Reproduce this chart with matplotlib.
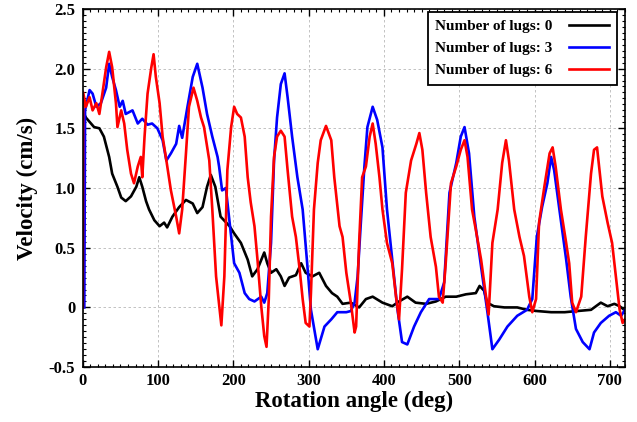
import matplotlib
matplotlib.use("Agg")
import matplotlib.pyplot as plt
from matplotlib.ticker import MultipleLocator

# lugs = 0 (black)
angle_0 = [0, 1, 4, 15, 22, 28, 35, 39, 46, 51, 57, 64, 71, 75, 79, 84, 88, 95, 102, 108, 112,
           119, 128, 137, 146, 152, 159, 165, 170, 176, 183, 195, 201, 210, 219, 225, 232, 241,
           245, 250, 257, 263, 268, 274, 283, 290, 296, 305, 314, 323, 331, 338, 345, 356, 367,
           376, 385, 398, 411, 420, 431, 442, 456, 469, 482, 496, 509, 522, 527, 533, 537, 546,
           560, 577, 590, 603, 622, 640, 657, 675, 688, 697, 706, 713, 719]
vel_0 = [0.0, 1.63, 1.59, 1.51, 1.50, 1.43, 1.26, 1.12, 1.01, 0.92, 0.89, 0.93, 1.01, 1.09,
         1.01, 0.89, 0.82, 0.73, 0.68, 0.71, 0.67, 0.76, 0.84, 0.90, 0.87, 0.79, 0.84, 1.01,
         1.11, 1.01, 0.76, 0.68, 0.62, 0.54, 0.40, 0.26, 0.32, 0.46, 0.37, 0.29, 0.32, 0.26,
         0.18, 0.25, 0.27, 0.37, 0.29, 0.26, 0.29, 0.18, 0.12, 0.09, 0.03, 0.04, 0.0, 0.07,
         0.09, 0.04, 0.01, 0.05, 0.09, 0.04, 0.03, 0.05, 0.09, 0.09, 0.11, 0.12, 0.18, 0.14,
         0.04, 0.01, 0.0, 0.0, -0.02, -0.03, -0.04, -0.04, -0.03, -0.02, 0.04, 0.01, 0.03,
         0.01, -0.02]

# lugs = 3 (blue)
angle_3 = [2, 3, 9, 13, 18, 24, 31, 35, 39, 44, 49, 53, 57, 66, 73, 79, 86, 92, 99, 106, 111,
           117, 124, 128, 132, 139, 146, 152, 159, 165, 172, 179, 181, 185, 190, 195, 201, 208,
           215, 221, 228, 237, 241, 245, 250, 254, 258, 263, 268, 272, 278, 285, 292, 298, 303,
           312, 321, 330, 338, 350, 356, 361, 365, 369, 374, 378, 385, 391, 398, 404, 411, 418,
           424, 431, 440, 449, 460, 473, 480, 487, 496, 502, 507, 513, 520, 529, 537, 544, 553,
           564, 577, 590, 597, 603, 610, 617, 622, 626, 633, 642, 648, 655, 664, 673, 679, 688,
           699, 708, 715, 720]
vel_3 = [0.0, 1.65, 1.82, 1.79, 1.68, 1.71, 1.84, 2.04, 1.93, 1.82, 1.68, 1.73, 1.62, 1.65,
         1.54, 1.58, 1.53, 1.54, 1.50, 1.40, 1.23, 1.29, 1.37, 1.52, 1.42, 1.68, 1.93, 2.04,
         1.84, 1.62, 1.43, 1.26, 1.18, 0.98, 1.00, 0.71, 0.37, 0.29, 0.12, 0.07, 0.05, 0.09,
         0.04, 0.12, 0.54, 1.23, 1.59, 1.87, 1.96, 1.76, 1.43, 1.09, 0.82, 0.37, -0.02, -0.35,
         -0.16, -0.10, -0.04, -0.04, -0.03, 0.04, 0.26, 0.68, 1.18, 1.51, 1.68, 1.57, 1.34,
         0.82, 0.40, -0.02, -0.29, -0.31, -0.16, -0.04, 0.07, 0.07, 0.21, 0.96, 1.21, 1.43,
         1.51, 1.29, 0.76, 0.34, -0.02, -0.35, -0.27, -0.16, -0.07, -0.02, 0.07, 0.59, 0.84,
         1.04, 1.26, 1.15, 0.82, 0.40, 0.09, -0.18, -0.29, -0.35, -0.21, -0.13, -0.07, -0.04,
         -0.07, -0.02]

# lugs = 6 (red)
angle_6 = [0, 0.5, 4, 9, 13, 18, 22, 26, 31, 35, 39, 44, 46, 51, 55, 59, 64, 68, 73, 77, 79,
           82, 86, 91, 94, 97, 102, 106, 111, 117, 124, 128, 132, 137, 141, 147, 152, 157, 161,
           168, 172, 177, 184, 188, 192, 197, 201, 205, 210, 215, 219, 223, 228, 232, 237, 241,
           244, 247, 250, 254, 258, 263, 268, 272, 278, 283, 288, 292, 296, 301, 303, 307, 312,
           316, 323, 330, 334, 341, 345, 350, 356, 361, 363, 367, 371, 376, 381, 385, 389, 394,
           398, 404, 411, 416, 420, 424, 429, 436, 443, 447, 451, 456, 462, 469, 473, 478, 482,
           489, 496, 502, 507, 511, 517, 522, 529, 536, 539, 544, 551, 557, 562, 566, 573, 580,
           586, 593, 597, 602, 606, 613, 620, 624, 628, 635, 642, 646, 650, 655, 662, 668, 675,
           679, 683, 690, 697, 703, 708, 713, 717, 720]
vel_6 = [0.0, 1.80, 1.68, 1.76, 1.65, 1.71, 1.62, 1.79, 2.01, 2.14, 2.01, 1.71, 1.51, 1.65,
         1.54, 1.32, 1.12, 1.04, 1.18, 1.26, 1.09, 1.43, 1.79, 2.01, 2.12, 1.93, 1.71, 1.43,
         1.23, 0.98, 0.76, 0.62, 0.82, 1.29, 1.68, 1.84, 1.73, 1.59, 1.51, 1.23, 0.82, 0.26,
         -0.15, 0.26, 1.15, 1.51, 1.68, 1.62, 1.59, 1.43, 1.09, 0.88, 0.68, 0.40, 0.01, -0.24,
         -0.33, 0.07, 0.76, 1.26, 1.43, 1.48, 1.43, 1.15, 0.76, 0.59, 0.32, 0.07, -0.13, -0.16,
         0.12, 0.82, 1.21, 1.40, 1.52, 1.40, 1.09, 0.68, 0.59, 0.29, 0.04, -0.21, -0.16, 0.54,
         1.09, 1.18, 1.43, 1.54, 1.37, 1.09, 0.82, 0.54, 0.37, 0.09, -0.10, 0.32, 0.96, 1.23,
         1.37, 1.46, 1.32, 0.96, 0.59, 0.34, 0.09, 0.04, 0.37, 1.04, 1.18, 1.32, 1.40, 1.26,
         0.82, 0.65, 0.40, 0.07, -0.06, 0.54, 0.82, 1.21, 1.40, 1.23, 0.82, 0.59, 0.43, 0.09,
         -0.04, 0.07, 0.71, 1.01, 1.29, 1.34, 1.18, 0.82, 0.54, 0.37, 0.04, -0.04, 0.09, 0.59,
         1.12, 1.32, 1.34, 0.93, 0.71, 0.54, 0.26, -0.02, -0.13, -0.10]

series = [
    ("Number of lugs: 0", angle_0, vel_0, "black"),
    ("Number of lugs: 3", angle_3, vel_3, "#0000ff"),
    ("Number of lugs: 6", angle_6, vel_6, "#ff0000"),
]

y_ticks = [-0.5, 0, 0.5, 1.0, 1.5, 2.0, 2.5]
y_tick_labels = ["-0.5", "0", "0.5", "1.0", "1.5", "2.0", "2.5"]
x_ticks = [0, 100, 200, 300, 400, 500, 600, 700]

plt.rcParams["font.family"] = ["Liberation Serif", "DejaVu Serif"]
plt.rcParams["font.weight"] = "bold"

fig = plt.figure(figsize=(6.37, 4.22), dpi=100)
ax = fig.add_axes([0.130, 0.130, 0.851, 0.849])

for label, x, y, color in series:
    ax.plot(x, y, color=color, linewidth=1.9, label=label)

ax.set_xlim(0, 720)
ax.set_ylim(-0.5, 2.5)
ax.set_xticks(x_ticks)
ax.set_yticks(y_ticks)
ax.set_yticklabels(y_tick_labels)
ax.xaxis.set_minor_locator(MultipleLocator(10))
ax.yaxis.set_minor_locator(MultipleLocator(0.05))
ax.tick_params(which="both", direction="in", top=True, right=True, labelsize=12)
ax.tick_params(which="major", length=5, width=1)
ax.tick_params(which="minor", length=2.5, width=0.8)
ax.tick_params(axis="x", which="major", pad=4.5)
ax.tick_params(axis="y", which="major", pad=5.5)
for lbl in ax.get_xticklabels() + ax.get_yticklabels():
    lbl.set_fontweight("bold")
ax.grid(True, which="major", linestyle=(0, (3, 3)), color="#b8b8b8", linewidth=0.6)
for spine in ax.spines.values():
    spine.set_linewidth(1.2)

ax.set_xlabel("Rotation angle (deg)", fontsize=16.5, fontweight="bold", labelpad=1)
ax.set_ylabel("Velocity (cm/s)", fontsize=16.5, fontweight="bold", labelpad=8)

leg = ax.legend(loc="upper right", bbox_to_anchor=(0.985, 0.992), borderaxespad=0,
                markerfirst=False, fancybox=False, framealpha=1, edgecolor="black",
                fontsize=11, handlelength=2.6, handletextpad=1.1, borderpad=0.5,
                labelspacing=0.55)
leg.get_frame().set_linewidth(1.3)
for t in leg.get_texts():
    t.set_fontweight("bold")

fig.savefig("out.png", dpi=100)
